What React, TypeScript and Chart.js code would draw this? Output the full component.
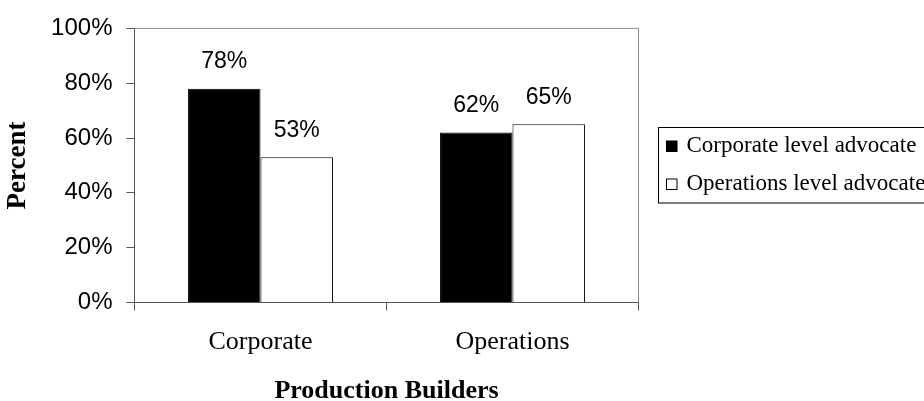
import React, { useEffect, useRef } from "react";
import { Chart, registerables } from "chart.js";

Chart.register(...registerables);

// ---- data ----
const categories = ["Corporate", "Operations"];
const seriesNames = ["Corporate level advocate", "Operations level advocate"];
const corporateAdvocate = [78, 62];
const operationsAdvocate = [53, 65];
const yTickValues = [0, 20, 40, 60, 80, 100];
const xAxisTitle = "Production Builders";
const yAxisTitle = "Percent";

// ---- styling / layout ----
const W = 924;
const H = 401;
const PLOT_LEFT = 134.5;
const PLOT_RIGHT = 638.5;
const PLOT_TOP = 22.5;
const PLOT_BOTTOM = 302.5;
const SANS = '"Liberation Sans", Arial, sans-serif';
const SERIF = '"Liberation Serif", "Times New Roman", serif';
const AXIS = "#555555";
const FRAME = "#8c8c8c";

const valueLabels = {
  id: "valueLabels",
  afterDatasetsDraw(chart: any) {
    const ctx = chart.ctx;
    ctx.save();
    ctx.font = `23px ${SANS}`;
    ctx.fillStyle = "#000";
    ctx.textAlign = "center";
    ctx.textBaseline = "middle";
    chart.data.datasets.forEach((ds: any, i: number) => {
      const meta = chart.getDatasetMeta(i);
      meta.data.forEach((el: any, j: number) => {
        ctx.fillText(`${ds.data[j]}%`, el.x, el.y - 27);
      });
    });
    ctx.restore();
  },
};

const plotFrame = {
  id: "plotFrame",
  beforeDatasetsDraw(chart: any) {
    const { ctx, chartArea: a } = chart;
    ctx.save();
    ctx.strokeStyle = FRAME;
    ctx.lineWidth = 1;
    ctx.beginPath();
    ctx.moveTo(a.left, a.top);
    ctx.lineTo(a.right, a.top);
    ctx.lineTo(a.right, a.bottom);
    ctx.stroke();
    ctx.restore();
  },
};

const boxedLegend = {
  id: "boxedLegend",
  afterDraw(chart: any) {
    const { ctx, chartArea: a } = chart;
    const mid = (a.top + a.bottom) / 2;
    const left = a.right + 20;
    const top = Math.round(mid - 38) + 0.5;
    const bottom = top + 75.5;
    ctx.save();
    ctx.fillStyle = "#fff";
    ctx.fillRect(left, top, W + 20 - left, bottom - top);
    ctx.strokeStyle = "#000";
    ctx.lineWidth = 1;
    ctx.strokeRect(left, top, W + 20 - left, bottom - top);
    ctx.font = `23px ${SERIF}`;
    ctx.textAlign = "left";
    ctx.textBaseline = "middle";
    const rows = [mid - 19, mid + 19];
    chart.data.datasets.forEach((ds: any, i: number) => {
      const cy = rows[i];
      const sx = left + 8;
      const sy = Math.round(cy - 5.5);
      ctx.fillStyle = ds.backgroundColor;
      ctx.fillRect(sx, sy, 10.5, 10.5);
      ctx.strokeStyle = "#000";
      ctx.strokeRect(sx, sy, 10.5, 10.5);
      ctx.fillStyle = "#000";
      ctx.fillText(ds.label, left + 28, cy);
    });
    ctx.restore();
  },
};

export default function App() {
  const ref = useRef<HTMLCanvasElement | null>(null);

  useEffect(() => {
    document.body.style.margin = "0";
    const canvas = ref.current;
    if (!canvas) return;
    const chart = new Chart(canvas, {
      type: "bar",
      data: {
        labels: categories,
        datasets: [
          {
            label: seriesNames[0],
            data: corporateAdvocate,
            backgroundColor: "#000000",
            borderColor: "#000000",
            borderWidth: 1,
            categoryPercentage: 0.575,
            barPercentage: 1,
          },
          {
            label: seriesNames[1],
            data: operationsAdvocate,
            backgroundColor: "#ffffff",
            borderColor: "#000000",
            borderWidth: 1,
            categoryPercentage: 0.575,
            barPercentage: 1,
          },
        ],
      },
      options: {
        responsive: false,
        animation: false,
        devicePixelRatio: 1,
        layout: {
          padding: { left: 0, right: W - PLOT_RIGHT, top: PLOT_TOP, bottom: 0 },
        },
        plugins: {
          legend: { display: false },
          tooltip: { enabled: false },
        },
        scales: {
          x: {
            grid: {
              offset: true,
              drawOnChartArea: false,
              drawTicks: true,
              tickLength: 8,
              color: AXIS,
            },
            border: { color: AXIS, width: 1 },
            ticks: {
              color: "#000",
              font: { family: SERIF, size: 26 },
              padding: 16,
            },
            title: {
              display: true,
              text: xAxisTitle,
              color: "#000",
              font: { family: SERIF, size: 26, weight: "bold", lineHeight: 0.72 },
              padding: { top: 0, bottom: 0 },
            },
            afterFit(scale: any) {
              scale.height = H - PLOT_BOTTOM;
            },
          },
          y: {
            min: 0,
            max: 100,
            afterBuildTicks(scale: any) {
              scale.ticks = yTickValues.map((v) => ({ value: v }));
            },
            ticks: {
              callback: (v: any) => `${v}%`,
              color: "#000",
              font: { family: SANS, size: 24 },
              padding: 14,
            },
            grid: { drawOnChartArea: false, tickLength: 8, color: AXIS },
            border: { color: AXIS, width: 1 },
            title: {
              display: true,
              text: yAxisTitle,
              color: "#000",
              font: { family: SERIF, size: 27, weight: "bold" },
              padding: { top: 1.5, bottom: 0 },
            },
            afterFit(scale: any) {
              scale.width = PLOT_LEFT;
            },
          },
        },
      },
      plugins: [plotFrame, valueLabels, boxedLegend],
    } as any);
    return () => chart.destroy();
  }, []);

  return (
    <canvas
      ref={ref}
      width={W}
      height={H}
      style={{ display: "block", width: W, height: H }}
    />
  );
}
